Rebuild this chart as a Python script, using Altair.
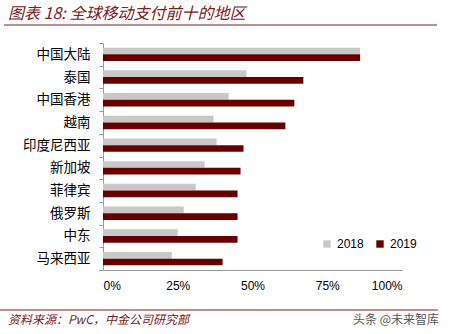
import altair as alt
import pandas as pd

regions = ["中国大陆", "泰国", "中国香港", "越南", "印度尼西亚", "新加坡", "菲律宾", "俄罗斯", "中东", "马来西亚"]
v2018 = [0.86, 0.48, 0.42, 0.37, 0.38, 0.34, 0.31, 0.27, 0.25, 0.23]
v2019 = [0.86, 0.67, 0.64, 0.61, 0.47, 0.46, 0.45, 0.45, 0.45, 0.40]
years = ["2018", "2019"]
colors = ["#c8c8c8", "#660000"]
tick_values = [0, 0.25, 0.5, 0.75, 1.0]

title_text = "图表 18:  全球移动支付前十的地区"
source_text = "资料来源：PwC，中金公司研究部"
watermark_text = "头条 @未来智库"

rows = []
for r, a, b in zip(regions, v2018, v2019):
    rows.append({"region": r, "year": years[0], "value": a})
    rows.append({"region": r, "year": years[1], "value": b})
df = pd.DataFrame(rows)

FONT = "Noto Sans CJK SC"

bars = alt.Chart(df).mark_bar().encode(
    y=alt.Y("region:N", sort=regions, title=None,
            scale=alt.Scale(paddingInner=0, paddingOuter=0),
            axis=alt.Axis(tickBand="extent", tickSize=4, tickColor="#999",
                          domainColor="#999", labelFontSize=13.5, labelColor="#000",
                          labelFont=FONT, labelPadding=9)),
    yOffset=alt.YOffset("year:N", sort=years,
                        scale=alt.Scale(paddingInner=0, paddingOuter=0.7)),
    x=alt.X("value:Q", title=None,
            scale=alt.Scale(domain=[0, 1], nice=False),
            axis=alt.Axis(values=tick_values, format=".0%", grid=False, ticks=False,
                          domainColor="#999", labelFontSize=12, labelColor="#000",
                          labelFont="Liberation Sans", labelPadding=10)),
    color=alt.Color("year:N", sort=years,
                    scale=alt.Scale(domain=years, range=colors),
                    legend=alt.Legend(title=None, orient="none", direction="horizontal",
                                      legendX=218, legendY=195, symbolType="square",
                                      symbolSize=55, symbolStrokeWidth=0,
                                      labelFontSize=12, labelFont="Liberation Sans",
                                      labelColor="#000", columnPadding=10)),
)

title = alt.Chart(pd.DataFrame({"t": [title_text]})).mark_text(
    align="left", baseline="middle", fontSize=16, font=FONT, fontStyle="italic",
    color="#7a2020"
).encode(text="t:N", x=alt.value(-95), y=alt.value(-29))

line_top = alt.Chart(pd.DataFrame({"a": [0]})).mark_rule(color="#7a2020", strokeWidth=1).encode(
    x=alt.value(-99), x2=alt.value(334), y=alt.value(-18))

line_bot = alt.Chart(pd.DataFrame({"a": [0]})).mark_rule(color="#7a2020", strokeWidth=1).encode(
    x=alt.value(-103), x2=alt.value(335), y=alt.value(267))

source = alt.Chart(pd.DataFrame({"t": [source_text]})).mark_text(
    align="left", baseline="middle", fontSize=12, font=FONT, fontStyle="italic",
    color="#7a2020"
).encode(text="t:N", x=alt.value(-95), y=alt.value(277))

watermark = alt.Chart(pd.DataFrame({"t": [watermark_text]})).mark_text(
    align="left", baseline="middle", fontSize=12, font=FONT, color="#555"
).encode(text="t:N", x=alt.value(250), y=alt.value(277))

chart = alt.layer(bars, title, line_top, line_bot, source, watermark).properties(
    width=299, height=227,
    autosize=alt.AutoSizeParams(type="none"),
    padding={"left": 103, "top": 43, "right": 53, "bottom": 64},
    background="white",
).configure_view(stroke=None)

chart.save("out.html", embed_options={"renderer": "svg", "actions": False})
